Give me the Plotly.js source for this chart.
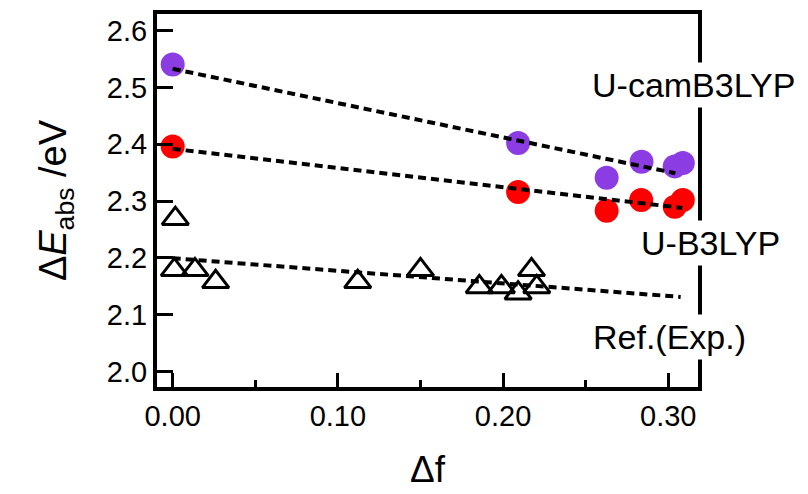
<!DOCTYPE html>
<html>
<head>
<meta charset="utf-8">
<script src="https://cdn.plot.ly/plotly-3.0.1.min.js"></script>
<style>html,body{margin:0;padding:0;background:#fff;}#chart{width:808px;height:494px;}</style>
</head>
<body>
<div id="chart"></div>
<script>
// U-camB3LYP (purple)
const camX = [0.0, 0.2091, 0.2627, 0.2838, 0.3039, 0.3088];
const camY = [2.540, 2.402, 2.341, 2.369, 2.361, 2.367];
// U-B3LYP (red)
const b3X = [0.0, 0.2091, 0.2627, 0.2836, 0.3039, 0.3088];
const b3Y = [2.396, 2.316, 2.283, 2.302, 2.290, 2.302];
// Ref.(Exp.) (open triangles)
const refX = [0.0016, 0.001, 0.0135, 0.026, 0.112, 0.150, 0.1856, 0.199, 0.2091, 0.2172, 0.2204];
const refY = [2.269, 2.179, 2.179, 2.158, 2.158, 2.179, 2.149, 2.149, 2.138, 2.179, 2.149];
// linear fit lines (endpoints)
const camFitX = [0.0, 0.3043];
const camFitY = [2.5326, 2.349];
const b3FitX = [0.0, 0.3085];
const b3FitY = [2.3918, 2.288];
const refFitX = [0.0, 0.3075];
const refFitY = [2.1995, 2.1314];
// labels and ticks
const seriesLabels = ['U-camB3LYP', 'U-B3LYP', 'Ref.(Exp.)'];
const xTicks = [0.0, 0.1, 0.2, 0.3];
const yTicks = [2.0, 2.1, 2.2, 2.3, 2.4, 2.5, 2.6];

// label placement (paper coordinates)
const labelPos = [{x: 0.991, y: 0.810}, {x: 1.024, y: 0.386}, {x: 0.948, y: 0.135}];

const FONT = 'Liberation Sans, Arial, Helvetica, sans-serif';
const PURPLE = '#8B3DE3';
const RED = '#FF0000';
const dashLine = {color: '#000', width: 4, dash: '8px,5px'};

const traces = [
  {x: camX, y: camY, mode: 'markers', type: 'scatter', name: seriesLabels[0],
   marker: {color: PURPLE, size: 24, line: {width: 0}}, cliponaxis: false},
  {x: b3X, y: b3Y, mode: 'markers', type: 'scatter', name: seriesLabels[1],
   marker: {color: RED, size: 24, line: {width: 0}}, cliponaxis: false},
  {x: refX, y: refY, mode: 'markers', type: 'scatter', name: seriesLabels[2],
   marker: {symbol: 'triangle-up-open', color: '#000', size: 23, line: {color: '#000', width: 3}}, cliponaxis: false},
  {x: camFitX, y: camFitY, mode: 'lines', type: 'scatter', line: dashLine, showlegend: false},
  {x: b3FitX, y: b3FitY, mode: 'lines', type: 'scatter', line: dashLine, showlegend: false},
  {x: refFitX, y: refFitY, mode: 'lines', type: 'scatter', line: dashLine, showlegend: false}
];

const annotations = seriesLabels.map((t, i) => ({
  text: t, x: labelPos[i].x, y: labelPos[i].y, xref: 'paper', yref: 'paper',
  showarrow: false, bgcolor: '#fff', borderpad: 3,
  font: {family: FONT, size: 34, color: '#000'}, xanchor: 'center', yanchor: 'middle'
}));

const layout = {
  width: 808, height: 494,
  margin: {l: 157, r: 110, t: 14, b: 107},
  paper_bgcolor: '#fff', plot_bgcolor: '#fff',
  showlegend: false,
  font: {family: FONT, color: '#000'},
  xaxis: {
    range: [-0.0095, 0.318],
    tickvals: xTicks, tickformat: '.2f',
    ticks: 'inside', ticklen: 14, tickwidth: 3, tickcolor: '#000',
    minor: {dtick: 0.05, ticks: 'inside', ticklen: 7, tickwidth: 3, tickcolor: '#000', showgrid: false},
    showline: true, linewidth: 4, linecolor: '#000', mirror: true,
    showgrid: false, zeroline: false,
    tickfont: {family: FONT, size: 29, color: '#000'},
    title: {text: 'Δf', font: {family: FONT, size: 37, color: '#000'}, standoff: 26}
  },
  yaxis: {
    range: [1.973, 2.629],
    tickvals: yTicks, tickformat: '.1f',
    ticks: 'inside', ticklen: 16, tickwidth: 3, tickcolor: '#000',
    showline: true, linewidth: 4, linecolor: '#000', mirror: true,
    showgrid: false, zeroline: false,
    tickfont: {family: FONT, size: 29, color: '#000'},
    title: {text: 'Δ<i>E</i><sub>abs</sub> /eV', font: {family: FONT, size: 38, color: '#000'}, standoff: 30}
  },
  annotations: annotations
};

Plotly.newPlot('chart', traces, layout, {displayModeBar: false, staticPlot: true});
</script>
</body>
</html>
